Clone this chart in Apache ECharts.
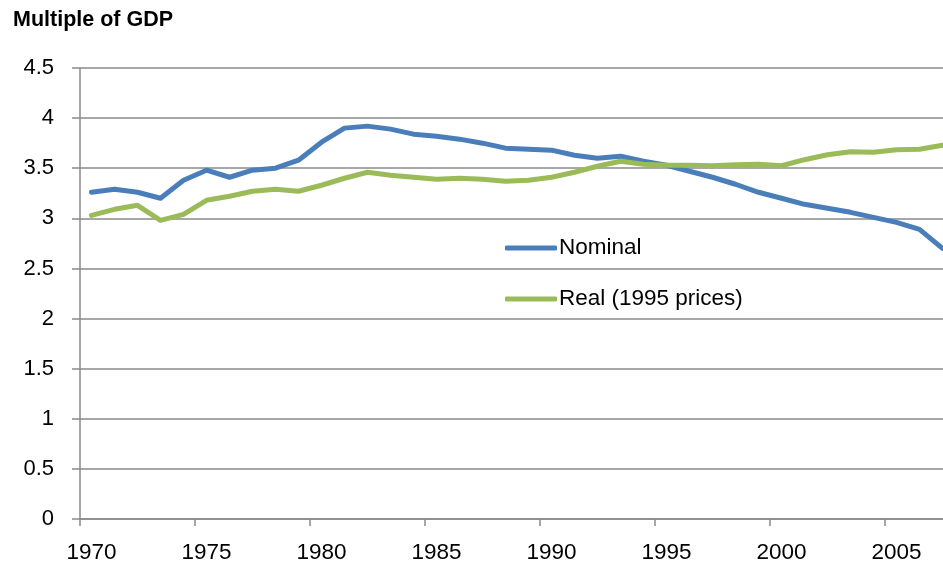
<!DOCTYPE html>
<html>
<head>
<meta charset="utf-8">
<script src="https://cdn.jsdelivr.net/npm/echarts@6/dist/echarts.min.js"></script>
<style>
html,body{margin:0;padding:0;background:#fff;overflow:hidden;width:943px;height:565px;}
#chart{width:954px;height:565px;}
</style>
</head>
<body>
<div id="chart"></div>
<script>
var years = ['1970','1971','1972','1973','1974','1975','1976','1977','1978','1979',
  '1980','1981','1982','1983','1984','1985','1986','1987','1988','1989',
  '1990','1991','1992','1993','1994','1995','1996','1997','1998','1999',
  '2000','2001','2002','2003','2004','2005','2006','2007'];
var nominal = [3.26,3.29,3.26,3.20,3.38,3.48,3.41,3.48,3.50,3.58,
  3.76,3.90,3.92,3.89,3.84,3.82,3.79,3.75,3.70,3.69,
  3.68,3.63,3.60,3.62,3.57,3.53,3.47,3.41,3.34,3.26,
  3.20,3.14,3.10,3.06,3.01,2.96,2.89,2.70];
var real = [3.03,3.09,3.13,2.98,3.04,3.18,3.22,3.27,3.29,3.27,
  3.33,3.40,3.46,3.43,3.41,3.39,3.40,3.39,3.37,3.38,
  3.41,3.46,3.52,3.57,3.54,3.53,3.53,3.525,3.535,3.54,
  3.525,3.585,3.635,3.665,3.66,3.685,3.69,3.73];
var seriesNames = ['Nominal','Real (1995 prices)'];
var yTitle = 'Multiple of GDP';

var FONT = '"Liberation Sans", Arial, sans-serif';
var GRID = '#8a8a8a';
var chart = echarts.init(document.getElementById('chart'), null, {renderer:'canvas'});
chart.setOption({
  animation:false,
  backgroundColor:'#fff',
  title:{text:yTitle,left:8,top:4,textStyle:{fontFamily:FONT,fontSize:21.5,fontWeight:'bold',color:'#000'}},
  legend:{
    orient:'vertical',left:500,top:230,
    itemWidth:52,itemHeight:5,itemGap:25,
    icon:'roundRect',
    textStyle:{fontFamily:FONT,fontSize:22.5,color:'#000',lineHeight:26,padding:[0,0,0,-3]},
    data:seriesNames
  },
  grid:{left:80,top:68,right:0,height:451},
  xAxis:{
    type:'category',data:years,boundaryGap:true,
    axisLine:{lineStyle:{color:GRID,width:1.5}},
    axisTick:{show:true,interval:4,length:7,lineStyle:{color:GRID,width:1.5}},
    axisLabel:{interval:4,margin:22,fontFamily:FONT,fontSize:22.5,color:'#000'},
    splitLine:{show:false}
  },
  yAxis:{
    type:'value',min:0,max:4.5,interval:0.5,
    axisLine:{show:true,lineStyle:{color:GRID,width:1.5}},
    axisTick:{show:true,length:8,lineStyle:{color:GRID,width:1.5}},
    axisLabel:{margin:26,fontFamily:FONT,fontSize:22,color:'#000'},
    splitLine:{show:true,lineStyle:{color:GRID,width:1.5}}
  },
  series:[
    {name:seriesNames[0],type:'line',data:nominal,symbol:'none',color:'#4A7EBB',
     lineStyle:{width:5,color:'#4A7EBB',cap:'round',join:'round'}},
    {name:seriesNames[1],type:'line',data:real,symbol:'none',color:'#9BBB59',
     lineStyle:{width:5,color:'#9BBB59',cap:'round',join:'round'}}
  ]
});
</script>
</body>
</html>
